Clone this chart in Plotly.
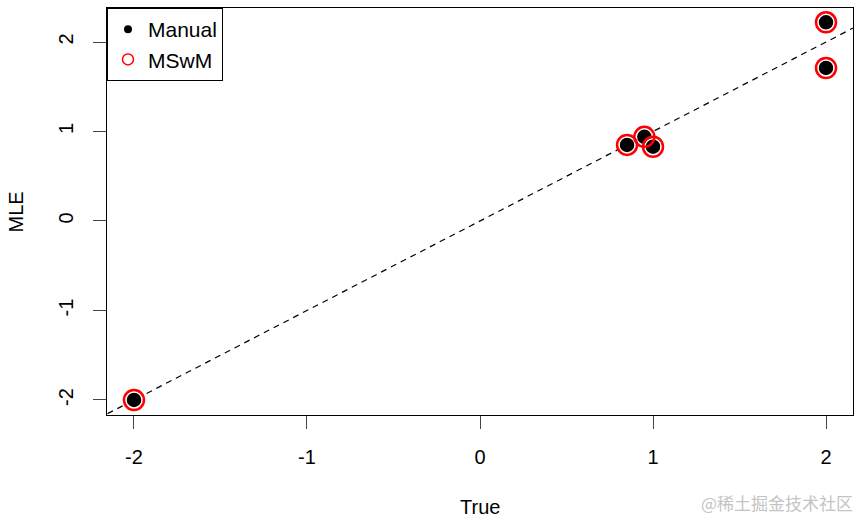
import plotly.graph_objects as go

# Data
true_vals = [-2.0, 0.85, 0.95, 1.0, 2.0, 2.0]
mle_manual = [-2.0, 0.85, 0.94, 0.83, 2.22, 1.71]
mle_msm = [-2.0, 0.85, 0.94, 0.83, 2.22, 1.71]
x_ticks = [-2, -1, 0, 1, 2]
y_ticks = [-2, -1, 0, 1, 2]
ref_intercept = 0.0
ref_slope = 1.0

FONT = "Liberation Sans, Arial, Helvetica, sans-serif"

fig = go.Figure()

# Manual: filled black points with white rim
fig.add_trace(go.Scatter(
    x=true_vals, y=mle_manual, mode="markers", name="Manual", showlegend=False,
    marker=dict(symbol="circle", size=16, color="black", line=dict(color="white", width=1.5)),
    cliponaxis=False,
))
# MSwM: red open circles
fig.add_trace(go.Scatter(
    x=true_vals, y=mle_msm, mode="markers", name="MSwM", showlegend=False,
    marker=dict(symbol="circle-open", size=20, color="red", line=dict(color="red", width=2.5)),
    cliponaxis=False,
))
# Legend-only entries
fig.add_trace(go.Scatter(
    x=[None], y=[None], mode="markers", name="Manual",
    marker=dict(symbol="circle", size=8, color="black"),
))
fig.add_trace(go.Scatter(
    x=[None], y=[None], mode="markers", name="MSwM",
    marker=dict(symbol="circle-open", size=11, color="red", line=dict(color="red", width=1.5)),
))

# Reference line y = a + b x
x0, x1 = -3, 3
fig.add_shape(type="line", xref="x", yref="y",
              x0=x0, y0=ref_intercept + ref_slope * x0,
              x1=x1, y1=ref_intercept + ref_slope * x1,
              line=dict(color="black", width=1.2, dash="6px,5px"), layer="below")

axis_common = dict(
    showgrid=False, zeroline=False, showline=True, linecolor="black", linewidth=1,
    mirror=True, ticks="outside", ticklen=13, tickwidth=1, tickcolor="#444",
    tickfont=dict(family=FONT, size=20, color="black"), automargin=False,
)

fig.update_xaxes(range=[-2.156, 2.156], tickvals=x_ticks, ticktext=[str(v) for v in x_ticks],
                 ticklabelstandoff=11, **axis_common)
fig.update_yaxes(range=[-2.168, 2.38], tickvals=y_ticks, ticktext=[str(v) for v in y_ticks],
                 tickangle=-90, ticklabelstandoff=12, **axis_common)

fig.add_annotation(text="True", xref="paper", yref="paper", x=0.5, y=-0.226,
                   xanchor="center", yanchor="middle", showarrow=False,
                   font=dict(family=FONT, size=20, color="black"))
fig.add_annotation(text="MLE", xref="paper", yref="paper", x=-0.122, y=0.5,
                   xanchor="center", yanchor="middle", textangle=-90, showarrow=False,
                   font=dict(family=FONT, size=20, color="black"))
fig.add_annotation(text="@稀土掘金技术社区", xref="paper", yref="paper", x=1.003, y=-0.215,
                   xanchor="right", yanchor="middle", showarrow=False,
                   font=dict(family="Noto Sans CJK SC", size=17, color="#c4c4c4"))

fig.update_layout(
    width=859, height=521,
    margin=dict(l=107, r=6, t=8, b=106),
    paper_bgcolor="white", plot_bgcolor="white",
    showlegend=True,
    legend=dict(x=0, y=1, xanchor="left", yanchor="top",
                bordercolor="black", borderwidth=1, bgcolor="white",
                font=dict(family=FONT, size=21, color="black"),
                itemsizing="trace", tracegroupgap=0, itemwidth=30),
)

fig.write_html("out.html", config={"displayModeBar": False},
               post_script="document.body.style.margin='0';document.body.style.overflow='hidden';")
